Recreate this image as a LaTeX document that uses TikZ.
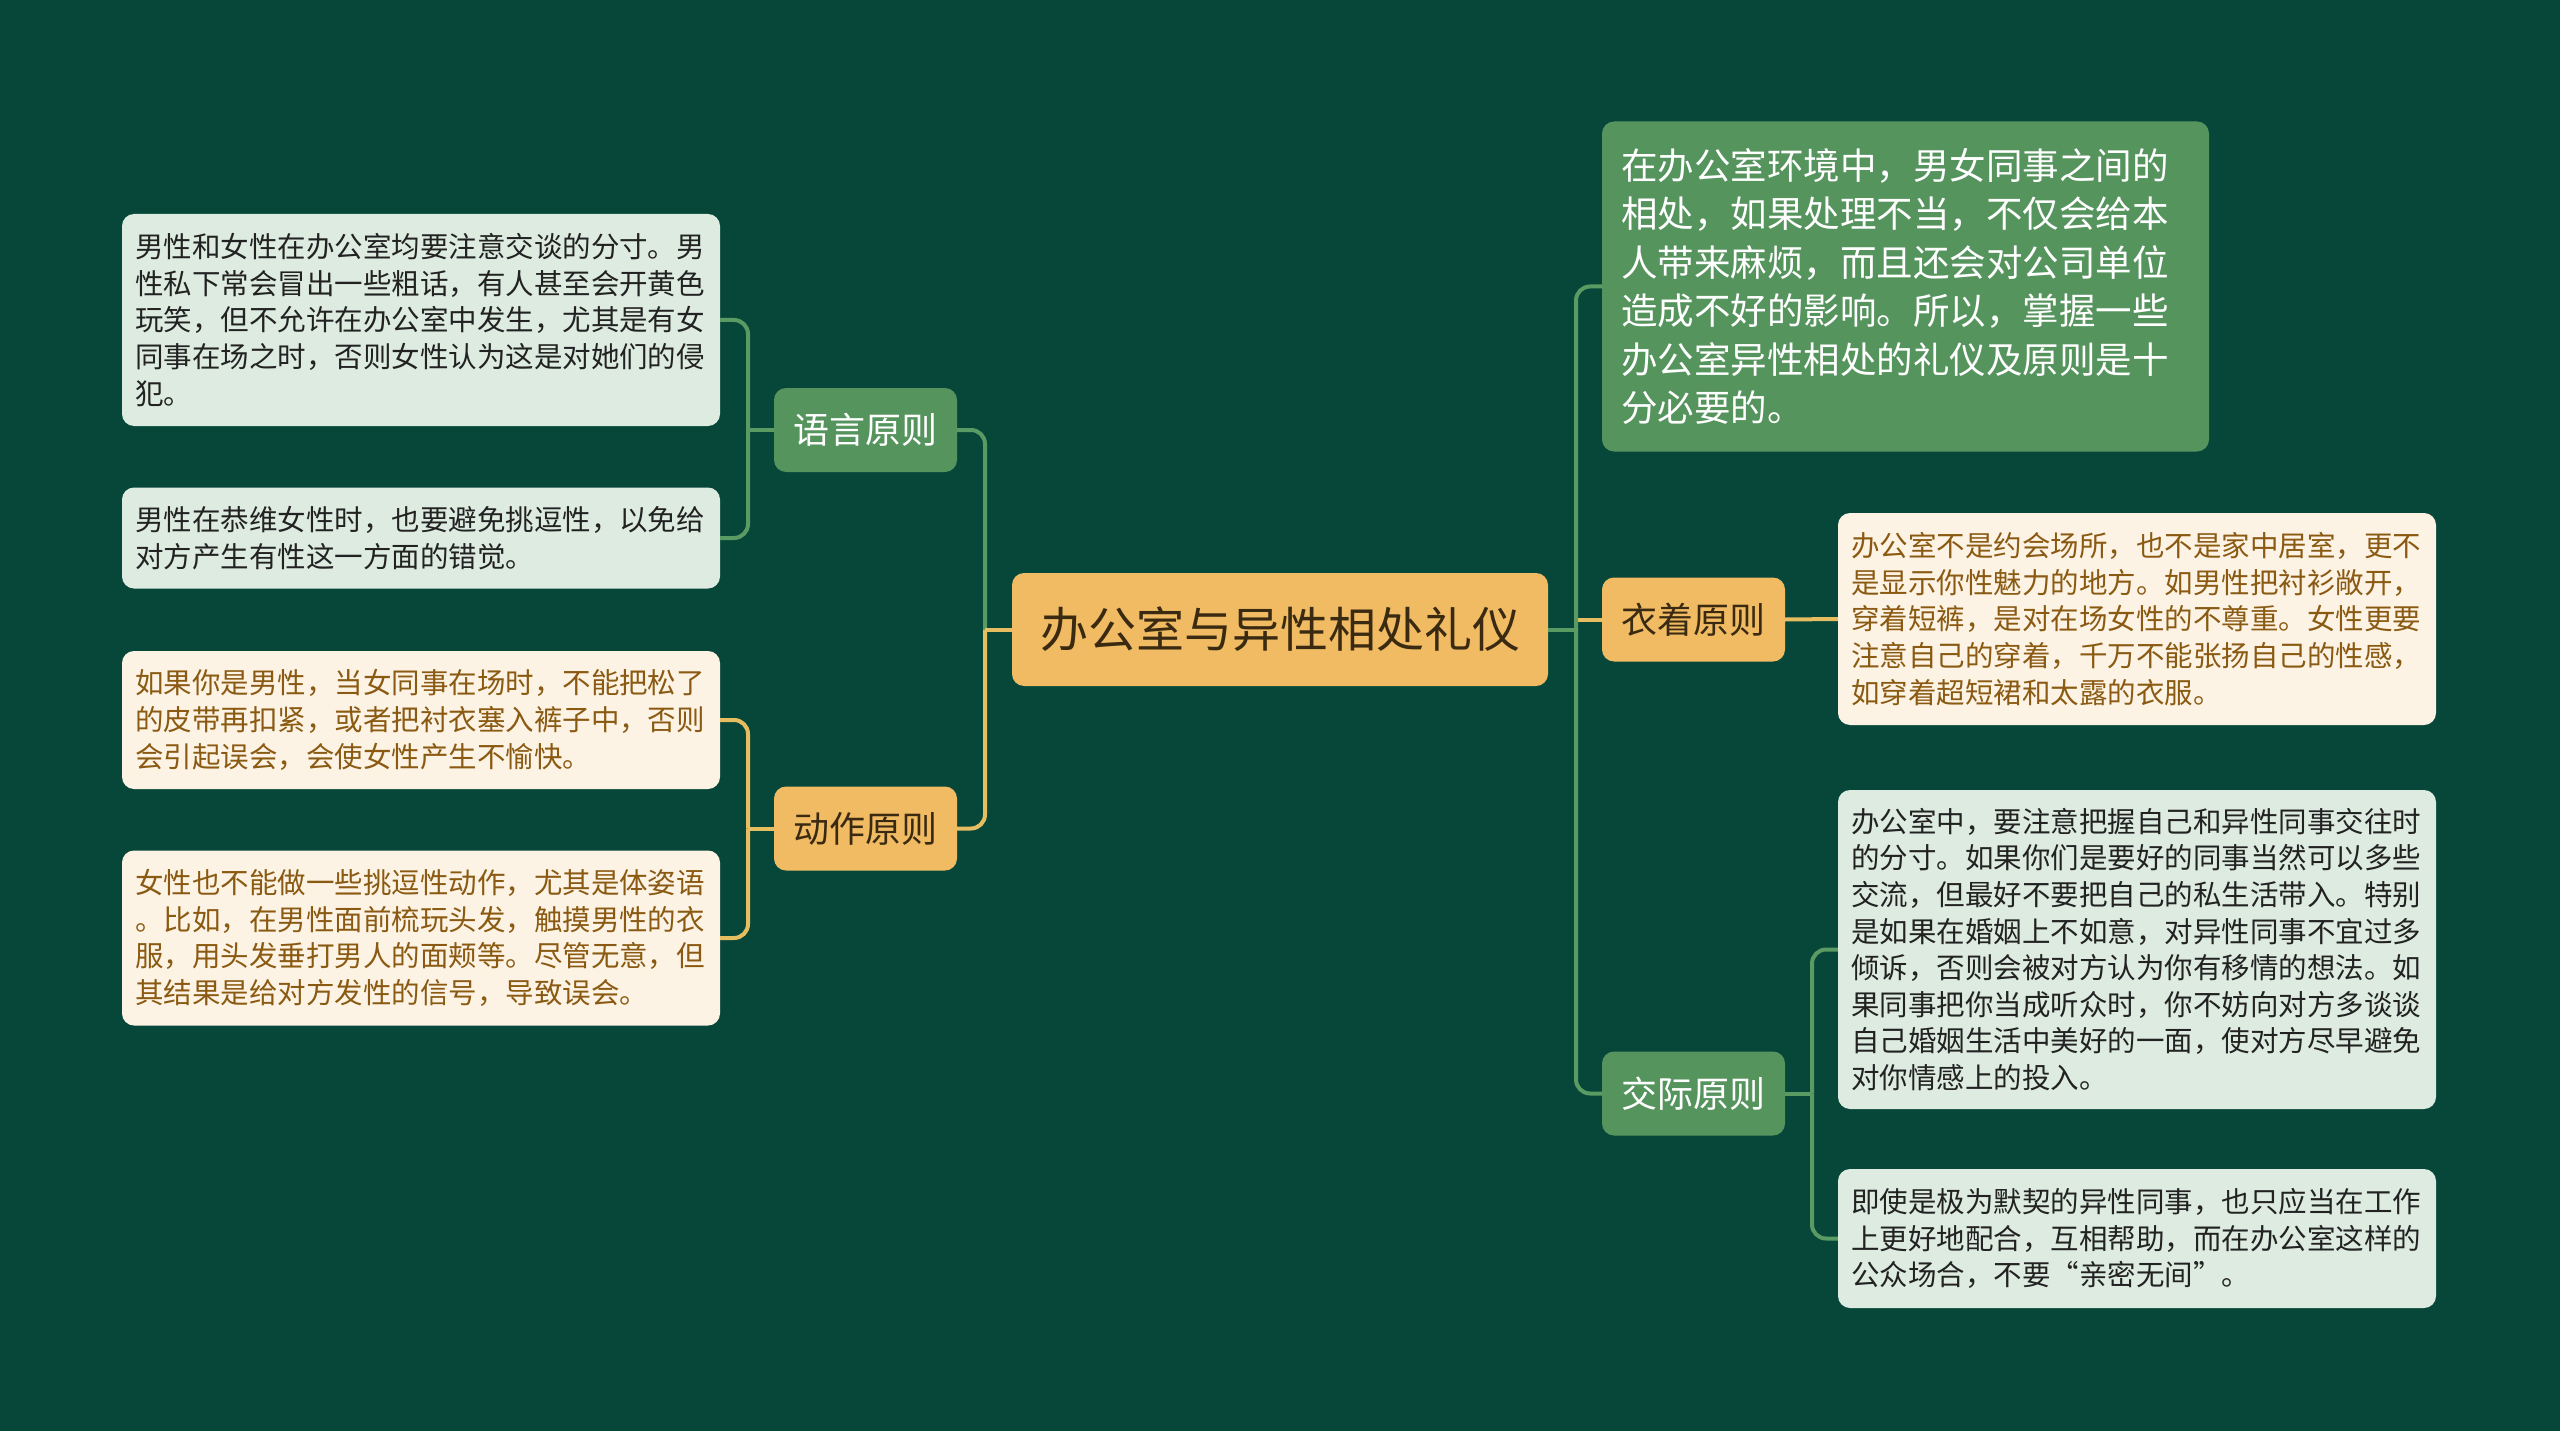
\documentclass[tikz,border=0pt]{standalone}
\usepackage{fontspec}
\setmainfont{Noto Sans CJK SC}
\definecolor{bg}{HTML}{07473A}
\definecolor{nodegreen}{HTML}{56945E}
\definecolor{nodeorange}{HTML}{F0BB62}
\definecolor{leaflight}{HTML}{DDEBE1}
\definecolor{leafcream}{HTML}{FDF3E4}
\definecolor{browntext}{HTML}{8A5A12}
\definecolor{darktext}{HTML}{3B2A12}
\definecolor{leaftext}{HTML}{222222}
\definecolor{linegreen}{HTML}{5A9A63}
\definecolor{lineyellow}{HTML}{E6BD60}
\tikzset{
  rootbox/.style={fill=nodeorange, rounded corners=12pt, minimum width=536pt, minimum height=113pt,
    inner sep=0pt, text=darktext, font=\fontsize{48}{56}\selectfont},
  lvgreen/.style={fill=nodegreen, rounded corners=12pt, minimum width=183pt, minimum height=84pt,
    inner sep=0pt, text=white, font=\fontsize{36}{42}\selectfont},
  lvorange/.style={fill=nodeorange, rounded corners=12pt, minimum width=183pt, minimum height=84pt,
    inner sep=0pt, text=darktext, font=\fontsize{36}{42}\selectfont},
  introbox/.style={fill=nodegreen, rounded corners=12pt, text width=569pt, inner xsep=19pt, inner ysep=0pt,
    minimum height=330pt, align=left, text=white, font=\fontsize{36.5}{48.5}\selectfont},
  leafbase/.style={rounded corners=12pt, text width=572pt, inner xsep=13pt, inner ysep=0pt,
    align=left, font=\fontsize{28.5}{36.6}\selectfont},
  leaflt/.style={leafbase, fill=leaflight, text=leaftext},
  leafcr/.style={leafbase, fill=leafcream, text=browntext},
  gline/.style={draw=linegreen, line width=4pt, rounded corners=14pt},
  yline/.style={draw=lineyellow, line width=4pt, rounded corners=14pt}
}
\begin{document}
\begin{tikzpicture}[x=1pt,y=-1pt]
\fill[bg] (0,0) rectangle (2560,1431);
\useasboundingbox (0,0) rectangle (2560,1431);

% bus coordinates
\coordinate (lbus) at (985,629.5);
\coordinate (rbus) at (1576,629.5);
\coordinate (ybus) at (748,430);
\coordinate (dbus) at (748,828.5);
\coordinate (jbus) at (1812,1093.5);

% nodes
\node[rootbox] (root) at (1280,629.5) {办公室与异性相处礼仪};
\node[lvgreen] (yuyan) at (865.5,430) {语言原则};
\node[lvorange] (dongzuo) at (865.5,828.5) {动作原则};
\node[lvorange] (yizhuo) at (1693.5,619.5) {衣着原则};
\node[lvgreen] (jiaoji) at (1693.5,1093.5) {交际原则};

\node[introbox] (intro) at (1905.5,286.5) {在办公室环境中，男女同事之间的\\相处，如果处理不当，不仅会给本\\人带来麻烦，而且还会对公司单位\\造成不好的影响。所以，掌握一些\\办公室异性相处的礼仪及原则是十\\分必要的。};

\node[leaflt, minimum height=212pt] (l1) at (421,320) {男性和女性在办公室均要注意交谈的分寸。男\\性私下常会冒出一些粗话，有人甚至会开黄色\\玩笑，但不允许在办公室中发生，尤其是有女\\同事在场之时，否则女性认为这是对她们的侵\\犯。};
\node[leaflt, minimum height=101pt] (l2) at (421,538) {男性在恭维女性时，也要避免挑逗性，以免给\\对方产生有性这一方面的错觉。};
\node[leafcr, minimum height=138pt] (l3) at (421,720) {如果你是男性，当女同事在场时，不能把松了\\的皮带再扣紧，或者把衬衣塞入裤子中，否则\\会引起误会，会使女性产生不愉快。};
\node[leafcr, minimum height=175pt] (l4) at (421,938) {女性也不能做一些挑逗性动作，尤其是体姿语\\。比如，在男性面前梳玩头发，触摸男性的衣\\服，用头发垂打男人的面颊等。尽管无意，但\\其结果是给对方发性的信号，导致误会。};

\node[leafcr, minimum height=212pt] (r1) at (2137,619) {办公室不是约会场所，也不是家中居室，更不\\是显示你性魅力的地方。如男性把衬衫敞开，\\穿着短裤，是对在场女性的不尊重。女性更要\\注意自己的穿着，千万不能张扬自己的性感，\\如穿着超短裙和太露的衣服。};
\node[leaflt, minimum height=319pt] (r2) at (2137,949.5) {办公室中，要注意把握自己和异性同事交往时\\的分寸。如果你们是要好的同事当然可以多些\\交流，但最好不要把自己的私生活带入。特别\\是如果在婚姻上不如意，对异性同事不宜过多\\倾诉，否则会被对方认为你有移情的想法。如\\果同事把你当成听众时，你不妨向对方多谈谈\\自己婚姻生活中美好的一面，使对方尽早避免\\对你情感上的投入。};
\node[leaflt, minimum height=139pt] (r3) at (2137,1238.5) {即使是极为默契的异性同事，也只应当在工作\\上更好地配合，互相帮助，而在办公室这样的\\公众场合，不要“亲密无间”。};

% connectors: root to level 1
\draw[gline] (yuyan.east) -| (lbus);
\draw[yline] (dongzuo.east) -| (lbus);
\draw[yline] (lbus) -- (root.west);
\draw[draw=lineyellow, line width=4pt] (rbus) -- (rbus |- yizhuo.west) -- (yizhuo.west);
\draw[gline] (intro.west) -| (rbus);
\draw[gline] (jiaoji.west) -| (rbus);
\draw[gline] (rbus) -- (root.east);

% level 1 to leaves
\draw[gline] (l1.east) -| (ybus);
\draw[gline] (l2.east) -| (ybus);
\draw[gline] (ybus) -- (yuyan.west);
\draw[yline] (l3.east) -| (dbus);
\draw[yline] (l4.east) -| (dbus);
\draw[yline] (dbus) -- (dongzuo.west);
\draw[draw=lineyellow, line width=4pt] (yizhuo.east) -- (r1.west);
\draw[gline] (r2.west) -| (jbus);
\draw[gline] (r3.west) -| (jbus);
\draw[gline] (jbus) -- (jiaoji.east);
\end{tikzpicture}
\end{document}
